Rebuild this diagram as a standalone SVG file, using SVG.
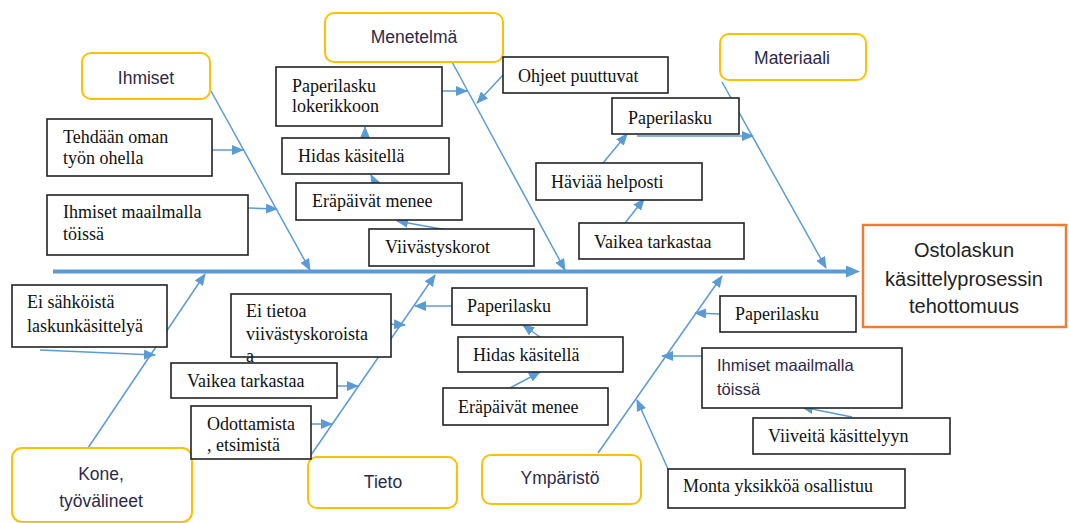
<svg xmlns="http://www.w3.org/2000/svg" width="1069" height="523" viewBox="0 0 1069 523">
<defs>
<marker id="ah" viewBox="0 0 12 10" refX="11" refY="5" markerWidth="12" markerHeight="10" markerUnits="userSpaceOnUse" orient="auto">
<path d="M0,0 L12,5 L0,10 z" fill="#5B9BD5"/>
</marker>
<marker id="ahb" viewBox="0 0 14 12" refX="0" refY="6" markerWidth="14" markerHeight="12" markerUnits="userSpaceOnUse" orient="auto">
<path d="M0,0 L14,6 L0,12 z" fill="#5B9BD5"/>
</marker>
<style>
.cat{fill:#fff;stroke:#FFC000;stroke-width:2}
.box{fill:#fff;stroke:#222;stroke-width:1.6}
.res{fill:#fff;stroke:#ED7D31;stroke-width:2.5}
.san{font-family:'Liberation Sans',Arial,sans-serif;font-size:17.5px;fill:#2D2A48}
.con path{fill:none;stroke:#5B9BD5;stroke-width:1.5;marker-end:url(#ah)}
</style>
</defs>
<rect width="1069" height="523" fill="#fff"/>

<g id="connectors" class="con">
<path d="M53,271.5 L846,271.5" style="stroke-width:4;marker-end:url(#ahb)"/>
<path d="M211,91 L310,270"/>
<path d="M452,62 L565,270"/>
<path d="M722,82 L826,268"/>
<path d="M88,448 L205,274"/>
<path d="M311,455 L435,275"/>
<path d="M598,453 L722,276"/>
<path d="M212,150 L243,150"/>
<path d="M248,208 L277,209"/>
<path d="M442,91 L467,91"/>
<path d="M503,75 L477,103"/>
<path d="M365,138 L365,127"/>
<path d="M375,183 L371,175"/>
<path d="M447,230 L397,221"/>
<path d="M637,136 L753,136"/>
<path d="M603,163 L627,134"/>
<path d="M625,223 L644,199"/>
<path d="M40,350 L155,355"/>
<path d="M388,324 L405,325"/>
<path d="M337,386 L358,386"/>
<path d="M311,424 L332,424"/>
<path d="M452,306 L415,306"/>
<path d="M540,337 L523,325"/>
<path d="M510,388 L540,372"/>
<path d="M720,314 L695,313"/>
<path d="M702,356 L662,356"/>
<path d="M852,417 L802,407"/>
<path d="M668,469 L637,400"/>
</g>

<g id="ihmiset"><rect class="cat" x="82" y="53" width="128" height="46" rx="9"/><text class="san" x="146" y="84" text-anchor="middle">Ihmiset</text></g>
<g id="menetelma"><rect class="cat" x="325" y="13" width="178" height="49" rx="9"/><text class="san" x="414" y="43" text-anchor="middle">Menetelmä</text></g>
<g id="materiaali"><rect class="cat" x="720" y="34" width="146" height="46" rx="9"/><text class="san" x="792" y="64" text-anchor="middle">Materiaali</text></g>
<g id="kone"><rect class="cat" x="12" y="448" width="180" height="74" rx="10"/><text class="san" x="101" y="480" text-anchor="middle">Kone,</text><text class="san" x="101" y="507" text-anchor="middle">työvälineet</text></g>
<g id="tieto"><rect class="cat" x="308" y="457" width="149" height="51" rx="9"/><text class="san" x="383" y="488" text-anchor="middle">Tieto</text></g>
<g id="ymparisto"><rect class="cat" x="482" y="455" width="159" height="49" rx="9"/><text class="san" x="560" y="484" text-anchor="middle">Ympäristö</text></g>

<g id="tulos" font-family="Liberation Sans, Arial, sans-serif" font-size="20" fill="#222" text-anchor="middle"><rect class="res" x="863" y="225" width="203" height="102"/>
<text x="964" y="257">Ostolaskun</text>
<text x="964" y="286">käsittelyprosessin</text>
<text x="964" y="313">tehottomuus</text></g>

<g font-family="Liberation Serif, Times New Roman, serif" font-size="18" fill="#111">
<g id="tehdaan"><rect class="box" x="47" y="119" width="165" height="57"/><text x="63" y="143">Tehdään oman</text><text x="63" y="164">työn ohella</text></g>
<g id="ihmiset-maailmalla-1"><rect class="box" x="47" y="195" width="201" height="60"/><text x="63" y="218">Ihmiset maailmalla</text><text x="63" y="240">töissä</text></g>

<g id="paperilasku-lokerikkoon"><rect class="box" x="276" y="67" width="166" height="59"/><text x="292" y="92">Paperilasku</text><text x="292" y="112">lokerikkoon</text></g>
<g id="hidas-1"><rect class="box" x="282" y="138" width="167" height="36"/><text x="298" y="162">Hidas käsitellä</text></g>
<g id="erapaivat-1"><rect class="box" x="296" y="183" width="166" height="37"/><text x="312" y="207">Eräpäivät menee</text></g>
<g id="viivastyskorot"><rect class="box" x="369" y="229" width="165" height="37"/><text x="385" y="253">Viivästyskorot</text></g>
<g id="ohjeet"><rect class="box" x="503" y="57" width="165" height="36"/><text x="518" y="82">Ohjeet puuttuvat</text></g>

<g id="paperilasku-mat"><rect class="box" x="612" y="98" width="127" height="36"/><text x="628" y="124">Paperilasku</text></g>
<g id="haviaa"><rect class="box" x="536" y="163" width="166" height="37"/><text x="551" y="188">Häviää helposti</text></g>
<g id="vaikea-mat"><rect class="box" x="579" y="223" width="165" height="36"/><text x="594" y="248">Vaikea tarkastaa</text></g>

<g id="ei-sahkoista"><rect class="box" x="12" y="285" width="155" height="62"/><text x="27" y="308">Ei sähköistä</text><text x="27" y="332">laskunkäsittelyä</text></g>

<g id="ei-tietoa"><rect class="box" x="231" y="294" width="160" height="63"/><text x="246" y="317">Ei tietoa</text><text x="246" y="340">viivästyskoroista</text><text x="246" y="362">a</text></g>
<g id="vaikea-tieto"><rect class="box" x="171" y="363" width="166" height="35"/><text x="187" y="387">Vaikea tarkastaa</text></g>
<g id="odottamista"><rect class="box" x="191" y="406" width="120" height="53"/><text x="207" y="430">Odottamista</text><text x="207" y="451">, etsimistä</text></g>
<g id="paperilasku-tieto"><rect class="box" x="452" y="288" width="135" height="37"/><text x="467" y="312">Paperilasku</text></g>
<g id="hidas-2"><rect class="box" x="458" y="337" width="165" height="35"/><text x="473" y="361">Hidas käsitellä</text></g>
<g id="erapaivat-2"><rect class="box" x="443" y="388" width="165" height="37"/><text x="458" y="413">Eräpäivät menee</text></g>

<g id="paperilasku-ymp"><rect class="box" x="720" y="296" width="136" height="36"/><text x="735" y="320">Paperilasku</text></g>
<g id="viiveita"><rect class="box" x="753" y="418" width="197" height="36"/><text x="768" y="442">Viiveitä käsittelyyn</text></g>
<g id="monta"><rect class="box" x="668" y="469" width="237" height="39"/><text x="683" y="492">Monta yksikköä osallistuu</text></g>
</g>
<g id="ihmiset-maailmalla-2"><rect class="box" x="702" y="348" width="200" height="60"/><text class="san" x="717" y="371" style="font-size:16.5px">Ihmiset maailmalla</text><text class="san" x="717" y="395" style="font-size:16.5px">töissä</text></g>
</svg>
